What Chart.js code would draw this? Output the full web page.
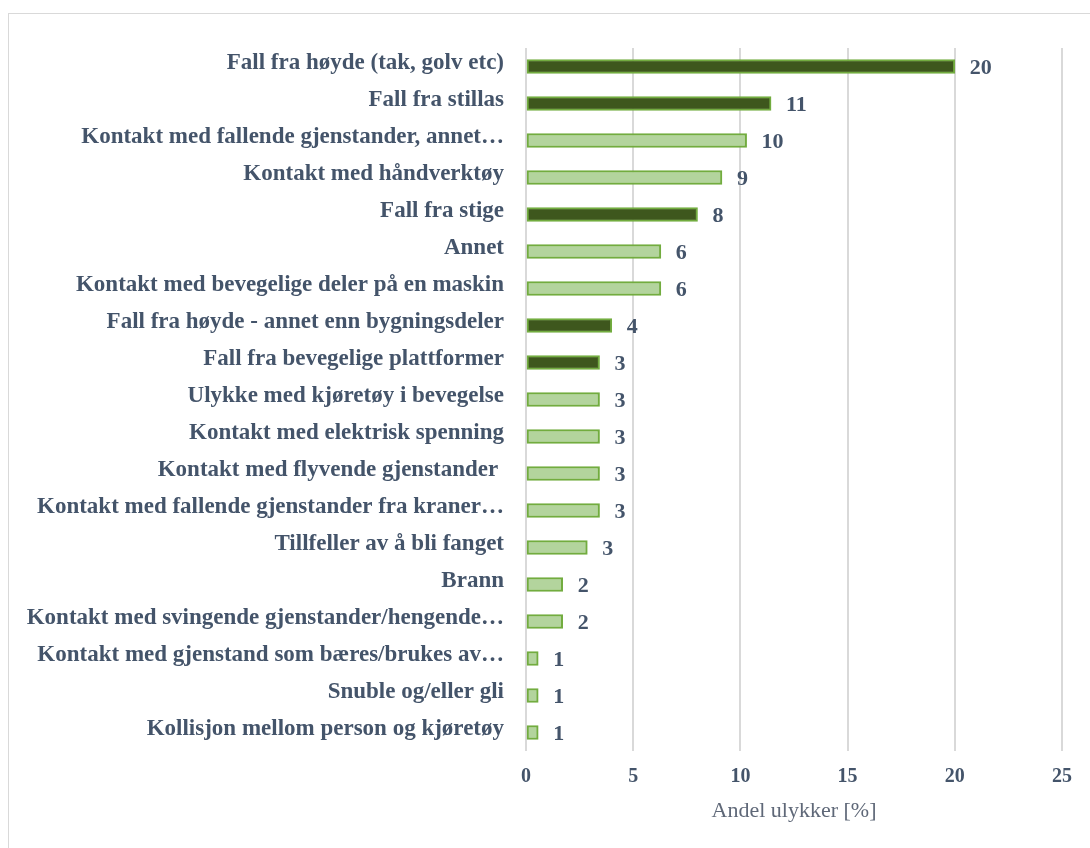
<!DOCTYPE html>
<html>
<head>
<meta charset="utf-8">
<script src="https://cdn.jsdelivr.net/npm/chart.js@4/dist/chart.umd.min.js"></script>
<style>
  body { margin: 0; background: #fff; overflow: hidden; }
  #frame { position: absolute; left: 8px; top: 13px; width: 1200px; height: 1000px; border: 1px solid #d9d9d9; }
  #wrap { position: absolute; left: 0; top: 0; width: 1090px; height: 848px; }
</style>
</head>
<body>
<div id="frame"></div>
<div id="wrap"><canvas id="chart"></canvas></div>
<script>
// categories, top to bottom
const labels = [
    'Fall fra høyde (tak, golv etc)',
    'Fall fra stillas',
    'Kontakt med fallende gjenstander, annet…',
    'Kontakt med håndverktøy',
    'Fall fra stige',
    'Annet',
    'Kontakt med bevegelige deler på en maskin',
    'Fall fra høyde - annet enn bygningsdeler',
    'Fall fra bevegelige plattformer',
    'Ulykke med kjøretøy i bevegelse',
    'Kontakt med elektrisk spenning',
    'Kontakt med flyvende gjenstander ',
    'Kontakt med fallende gjenstander fra kraner…',
    'Tillfeller av å bli fanget',
    'Brann',
    'Kontakt med svingende gjenstander/hengende…',
    'Kontakt med gjenstand som bæres/brukes av…',
    'Snuble og/eller gli',
    'Kollisjon mellom person og kjøretøy'
];
// share of accidents [%]
const values = [20.0, 11.43, 10.29, 9.14, 8.0, 6.29, 6.29, 4.0, 3.43, 3.43, 3.43, 3.43, 3.43, 2.86, 1.71, 1.71, 0.57, 0.57, 0.57];
// true = fall accidents (dark bars)
const isFall = [true, true, false, false, true, false, false, true, true, false, false, false, false, false, false, false, false, false, false];

const xTicks = [0, 5, 10, 15, 20, 25];

const TEXT = '#44546A';
const FONT = "'Liberation Serif', 'DejaVu Serif', serif";

// rounded value next to each bar
const valueLabels = {
    id: 'valueLabels',
    afterDatasetsDraw(chart) {
        const ctx = chart.ctx;
        const meta = chart.getDatasetMeta(0);
        ctx.save();
        ctx.font = 'bold 22px ' + FONT;
        ctx.fillStyle = TEXT;
        ctx.textAlign = 'left';
        ctx.textBaseline = 'middle';
        meta.data.forEach(function (bar, i) {
            ctx.fillText(String(Math.round(values[i])), bar.x + 15, bar.y + 2);
        });
        ctx.restore();
    }
};

const ctx = document.getElementById('chart').getContext('2d');
const chart = new Chart(ctx, {
    type: 'bar',
    data: {
        labels: labels,
        datasets: [{
            data: values,
            backgroundColor: isFall.map(function (f) { return f ? '#3E571D' : '#B3D49D'; }),
            borderColor: '#72AC3F',
            borderWidth: 2,
            borderSkipped: false,
            barThickness: 14
        }]
    },
    options: {
        indexAxis: 'y',
        responsive: true,
        maintainAspectRatio: false,
        animation: false,
        layout: { padding: { top: 48, right: 28, bottom: 0, left: 0 } },
        plugins: {
            legend: { display: false },
            tooltip: { enabled: false }
        },
        scales: {
            y: {
                afterFit: function (scale) { scale.width = 526; },
                grid: { display: false, drawTicks: false },
                border: { display: false },
                ticks: {
                    autoSkip: false,
                    padding: 22,
                    labelOffset: -3,
                    color: TEXT,
                    font: { family: FONT, size: 23, weight: 'bold' }
                }
            },
            x: {
                min: 0,
                max: 25,
                afterFit: function (scale) { scale.height = 97; },
                afterBuildTicks: function (scale) { scale.ticks = xTicks.map(function (v) { return { value: v }; }); },
                grid: { color: '#d9d9d9', lineWidth: 2, drawTicks: false },
                border: { display: false },
                ticks: {
                    padding: 14,
                    color: TEXT,
                    font: { family: FONT, size: 20, weight: 'bold' }
                },
                title: {
                    display: true,
                    text: 'Andel ulykker [%]',
                    color: '#5F6878',
                    font: { family: FONT, size: 22, weight: 'normal' },
                    padding: { top: 0, bottom: 24 }
                }
            }
        }
    },
    plugins: [valueLabels]
});
</script>
</body>
</html>
